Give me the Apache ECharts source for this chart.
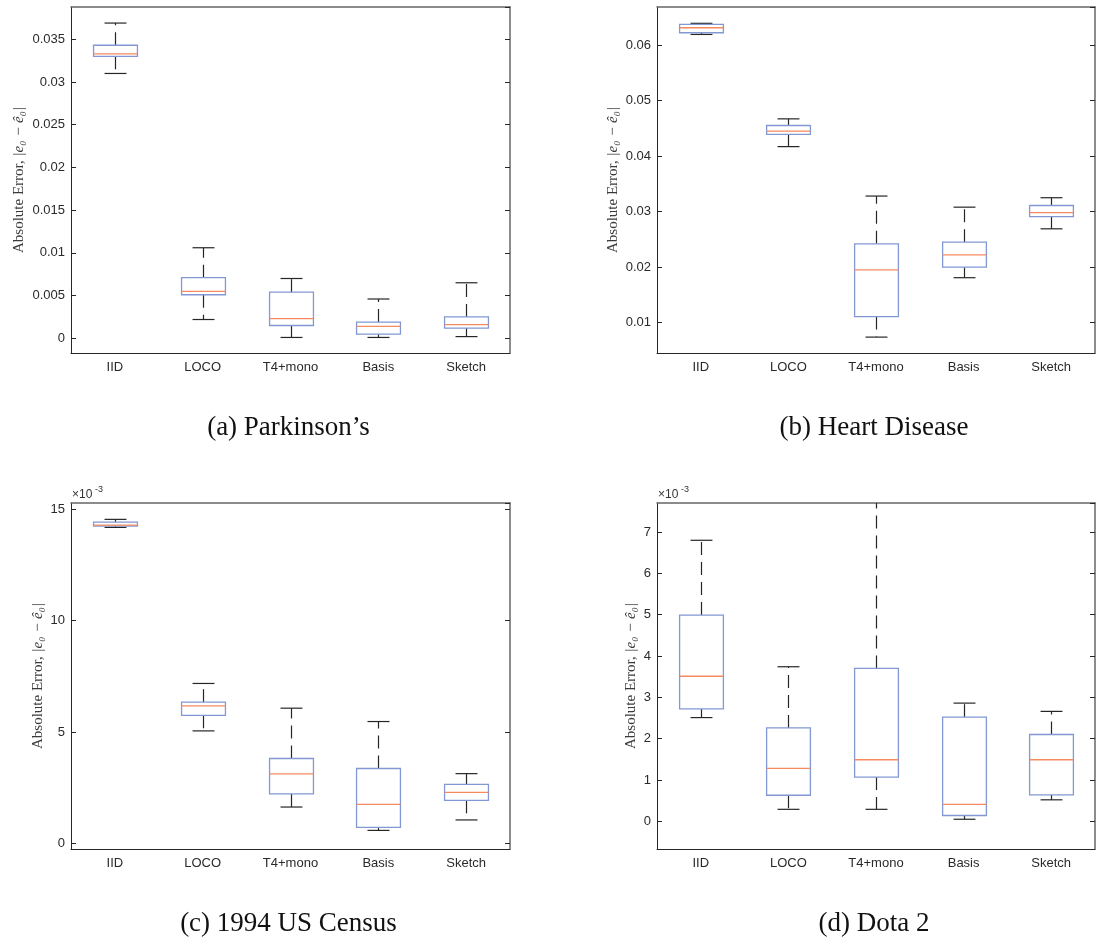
<!DOCTYPE html>
<html>
<head>
<meta charset="utf-8">
<script src="https://cdn.jsdelivr.net/npm/echarts@6/dist/echarts.min.js"></script>
<style>
  html, body { margin: 0; padding: 0; background: #fff; }
  #boxes { width: 1096px; height: 940px; }
</style>
</head>
<body>
<div id="boxes"></div>
<script>
// methods on the x axis
var methods = ['IID', 'LOCO', 'T4+mono', 'Basis', 'Sketch'];

// each row: [lower whisker, q1, median, q3, upper whisker]
var parkinsons = [
  [0.0310, 0.0330, 0.0333, 0.0343, 0.0369],
  [0.0022, 0.0051, 0.0055, 0.0071, 0.0106],
  [0.0001, 0.0015, 0.0023, 0.0054, 0.0070],
  [0.0001, 0.0005, 0.0014, 0.0019, 0.0046],
  [0.0002, 0.0012, 0.0016, 0.0025, 0.0065]
];
var heartDisease = [
  [0.0619, 0.0622, 0.0631, 0.0637, 0.0639],
  [0.0417, 0.0439, 0.0445, 0.0455, 0.0467],
  [0.0074, 0.0111, 0.0195, 0.0242, 0.0328],
  [0.0181, 0.0200, 0.0222, 0.0245, 0.0308],
  [0.0269, 0.0291, 0.0298, 0.0311, 0.0325]
];
// census and dota are in units of 10^-3
var census = [
  [14.19, 14.25, 14.29, 14.43, 14.55],
  [5.05, 5.75, 6.17, 6.34, 7.18],
  [1.63, 2.22, 3.12, 3.81, 6.07],
  [0.58, 0.72, 1.75, 3.36, 5.47],
  [1.05, 1.93, 2.29, 2.65, 3.13]
];
var dota = [
  [2.51, 2.72, 3.51, 4.99, 6.80],
  [0.29, 0.63, 1.28, 2.26, 3.74],
  [0.29, 1.07, 1.49, 3.70, 9.00],
  [0.05, 0.14, 0.41, 2.52, 2.86],
  [0.52, 0.64, 1.49, 2.10, 2.66]
];

var captions = ["(a) Parkinson\u2019s", '(b) Heart Disease', '(c) 1994 US Census', '(d) Dota 2'];
var yMin = [-0.00172, 0.00454, -0.255, -0.670];
var yMax = [0.03878, 0.06684, 15.285, 7.702];
var ySplit = [8, 6, 3, 8];

var panels = [parkinsons, heartDisease, census, dota];
var grids = [
  {left: 71, top: 7, width: 439, height: 346},
  {left: 657, top: 7, width: 438, height: 346},
  {left: 71, top: 503, width: 439, height: 346},
  {left: 657, top: 503, width: 438, height: 346}
];

var dark = '#262626';
var boxBlue = '#8298d4';
var medOrange = '#f58a5f';

function renderBox(params, api) {
  var i = api.value(0);
  var lo = api.coord([i, api.value(1)]);
  var q1 = api.coord([i, api.value(2)]);
  var med = api.coord([i, api.value(3)]);
  var q3 = api.coord([i, api.value(4)]);
  var hi = api.coord([i, api.value(5)]);
  var band = api.size([1, 0])[0];
  var bw = band * 0.25, cw = band * 0.125;
  var x = Math.round(lo[0]) + 0.5;
  var top = params.coordSys.y;
  var hiY = Math.max(hi[1], top);
  var kids = [];
  var dash = {stroke: dark, lineWidth: 1.2, lineDash: [13, 7]};
  kids.push({type: 'line', shape: {x1: x, y1: q3[1], x2: x, y2: hiY}, style: dash});
  kids.push({type: 'line', shape: {x1: x, y1: q1[1], x2: x, y2: lo[1]}, style: dash});
  if (hi[1] >= top) {
    kids.push({type: 'line', shape: {x1: x - cw, y1: hi[1], x2: x + cw, y2: hi[1]}, style: {stroke: dark, lineWidth: 1.2}});
  }
  kids.push({type: 'line', shape: {x1: x - cw, y1: lo[1], x2: x + cw, y2: lo[1]}, style: {stroke: dark, lineWidth: 1.2}});
  kids.push({type: 'rect', shape: {x: x - bw, y: q3[1], width: bw * 2, height: q1[1] - q3[1]},
    style: {fill: '#fff', stroke: boxBlue, lineWidth: 1.3}});
  kids.push({type: 'line', shape: {x1: x - bw, y1: med[1], x2: x + bw, y2: med[1]}, style: {stroke: medOrange, lineWidth: 1.3}});
  return {type: 'group', children: kids};
}

var xAxes = [], yAxes = [], series = [], graphics = [];
panels.forEach(function (rows, p) {
  xAxes.push({
    type: 'category', gridIndex: p, data: methods, position: 'bottom',
    axisLine: {onZero: false, lineStyle: {color: dark, width: 1}},
    axisTick: {inside: true, alignWithLabel: true, length: 5, lineStyle: {color: dark}},
    axisLabel: {color: '#2a2a2a', fontSize: 13, fontFamily: 'Liberation Sans', margin: 8},
    splitLine: {show: false}
  });
  xAxes.push({
    type: 'category', gridIndex: p, data: methods, position: 'top',
    axisLine: {onZero: false, lineStyle: {color: '#666', width: 1.5}},
    axisTick: {inside: true, alignWithLabel: true, length: 5, lineStyle: {color: dark}},
    axisLabel: {show: false}, splitLine: {show: false}
  });
  var yBase = {
    type: 'value', gridIndex: p, min: yMin[p], max: yMax[p], splitNumber: ySplit[p],
    splitLine: {show: false}
  };
  yAxes.push(Object.assign({}, yBase, {
    position: 'left',
    axisLine: {show: true, onZero: false, lineStyle: {color: dark, width: 1}},
    axisTick: {show: true, inside: true, length: 5, lineStyle: {color: dark}},
    axisLabel: {color: '#2a2a2a', fontSize: 13, fontFamily: 'Liberation Sans', margin: 6,
      showMinLabel: false, showMaxLabel: false}
  }));
  yAxes.push(Object.assign({}, yBase, {
    position: 'right',
    axisLine: {show: true, onZero: false, lineStyle: {color: '#666', width: 1.5}},
    axisTick: {show: true, inside: true, length: 5, lineStyle: {color: dark}},
    axisLabel: {show: false}
  }));
  series.push({
    type: 'custom', xAxisIndex: p * 2, yAxisIndex: p * 2,
    renderItem: renderBox,
    data: rows.map(function (r, i) { return [i].concat(r); })
  });

  var g = grids[p];
  var nameX = [19, 613, 38, 631][p];
  graphics.push({
    type: 'text', x: nameX, y: g.top + g.height / 2, rotation: Math.PI / 2,
    style: {
      text: '{t|Absolute Error, }{m||e\u2080 \u2212 \u00ea\u2080|}',
      align: 'center', verticalAlign: 'middle',
      rich: {
        t: {fontFamily: 'Liberation Serif', fontSize: 15, fill: '#3a3a3a'},
        m: {fontFamily: 'Liberation Serif', fontSize: 15, fontStyle: 'italic', fill: '#3a3a3a'}
      }
    }
  });
  graphics.push({
    type: 'text', x: g.left + g.width / 2 - 2, y: g.top + g.height + 75,
    style: {text: captions[p], align: 'center', verticalAlign: 'middle',
      fontFamily: 'Liberation Serif', fontSize: 27, fill: '#111'}
  });
  if (p >= 2) {
    graphics.push({
      type: 'text', x: g.left + 1, y: g.top - 8,
      style: {text: '\u00d710', align: 'left', verticalAlign: 'middle',
        fontFamily: 'Liberation Sans', fontSize: 12, fill: '#333'}
    });
    graphics.push({
      type: 'text', x: g.left + 24, y: g.top - 13,
      style: {text: '-3', align: 'left', verticalAlign: 'middle',
        fontFamily: 'Liberation Sans', fontSize: 9, fill: '#333'}
    });
  }
});

var chart = echarts.init(document.getElementById('boxes'), null, {renderer: 'canvas'});
var option = {
  backgroundColor: '#fff',
  animation: false,
  grid: grids,
  xAxis: xAxes,
  yAxis: yAxes,
  series: series,
  graphic: graphics
};
chart.setOption(option);
window.onresize = chart.resize;
</script>
</body>
</html>
